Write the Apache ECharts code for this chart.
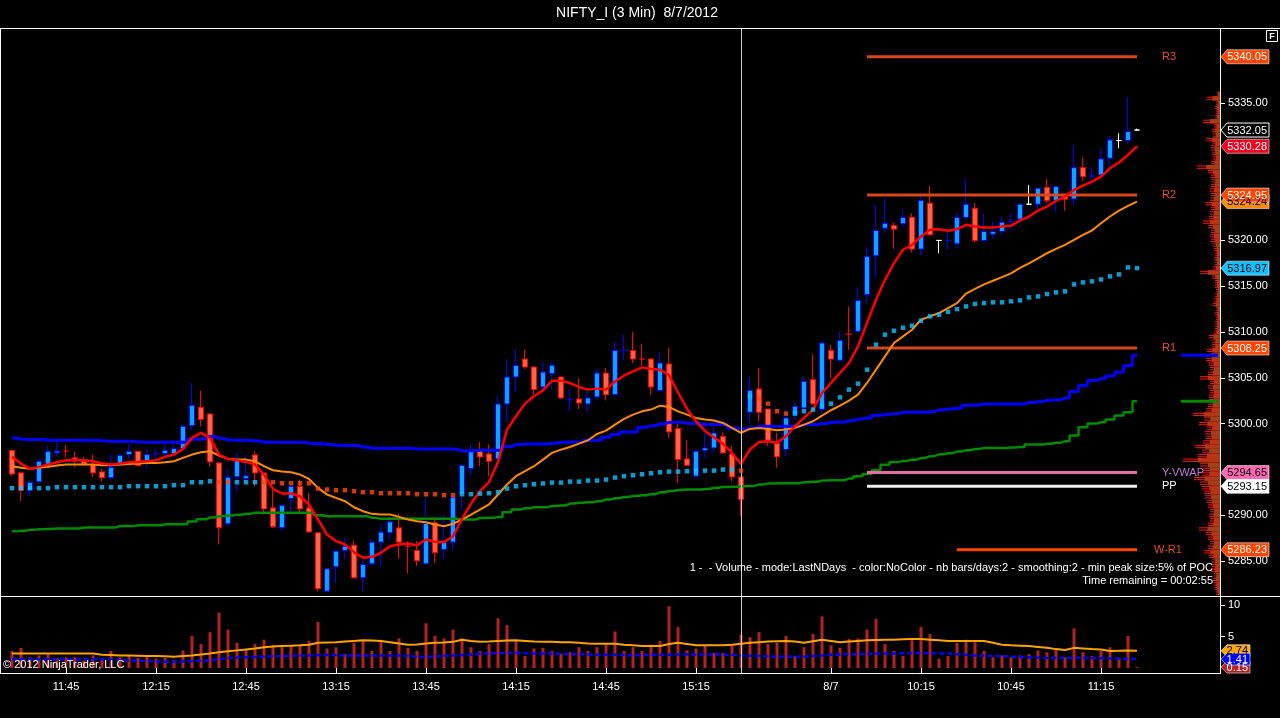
<!DOCTYPE html>
<html><head><meta charset="utf-8">
<script src="https://cdn.jsdelivr.net/npm/echarts/dist/echarts.min.js"></script>
<style>html,body{margin:0;padding:0;background:#000;overflow:hidden}#c{width:1280px;height:718px}</style>
</head><body><div id="c"></div>
<script>
// ---------------- DATA ----------------
const day1Times = ['11:27','11:30','11:33','11:36','11:39','11:42','11:45','11:48','11:51','11:54','11:57','12:00','12:03','12:06','12:09','12:12','12:15','12:18','12:21','12:24','12:27','12:30','12:33','12:36','12:39','12:42','12:45','12:48','12:51','12:54','12:57','13:00','13:03','13:06','13:09','13:12','13:15','13:18','13:21','13:24','13:27','13:30','13:33','13:36','13:39','13:42','13:45','13:48','13:51','13:54','13:57','14:00','14:03','14:06','14:09','14:12','14:15','14:18','14:21','14:24','14:27','14:30','14:33','14:36','14:39','14:42','14:45','14:48','14:51','14:54','14:57','15:00','15:03','15:06','15:09','15:12','15:15','15:18','15:21','15:24','15:27','15:30'];
const day2Times = ['9:18','9:21','9:24','9:27','9:30','9:33','9:36','9:39','9:42','9:45','9:48','9:51','9:54','9:57','10:00','10:03','10:06','10:09','10:12','10:15','10:18','10:21','10:24','10:27','10:30','10:33','10:36','10:39','10:42','10:45','10:48','10:51','10:54','10:57','11:00','11:03','11:06','11:09','11:12','11:15','11:18','11:21','11:24','11:27'];
const axisTimeLabels = {'d1 11:45':'11:45','d1 12:15':'12:15','d1 12:45':'12:45','d1 13:15':'13:15','d1 13:45':'13:45','d1 14:15':'14:15','d1 14:45':'14:45','d1 15:15':'15:15','d2 9:45':'8/7','d2 10:15':'10:15','d2 10:45':'10:45','d2 11:15':'11:15'};

const opens = [5297.06,5294.62,5292.73,5293.64,5295.24,5296.8,5297.0,5296.26,5295.9,5295.53,
5294.73,5294.08,5295.46,5296.62,5296.98,5295.71,5296.7,5296.73,5296.73,5297.27,
5299.78,5301.78,5301.06,5295.71,5289.06,5294.19,5294.0,5296.58,5294.62,5290.8,
5288.62,5291.82,5293.16,5290.8,5288.08,5281.71,5284.37,5286.15,5286.73,5283.17,
5284.7,5287.06,5288.08,5288.62,5286.62,5286.15,5284.7,5289.17,5286.26,5287.06,
5292.33,5295.09,5297.09,5296.69,5296.15,5302.14,5305.09,5307.05,5306.18,5304.0,
5305.45,5305.09,5302.6,5302.69,5302.14,5302.91,5305.52,5303.16,5308.0,5307.99,
5307.05,5307.05,5303.6,5306.51,5299.45,5296.15,5294.26,5297.05,5297.34,5298.62,
5296.69,5294.18,5301.24,5303.78,5301.6,5297.82,5297.17,5300.98,5301.71,5304.8,
5301.53,5308.0,5306.91,5309.78,5310.07,5314.07,5318.32,5321.34,5321.63,5321.81,
5322.54,5319.05,5324.07,5320.0,5320.0,5319.63,5322.5,5323.52,5319.99,5320.68,
5320.97,5322.06,5322.32,5323.95,5323.95,5325.8,5324.35,5325.04,5324.53,5327.95,
5327.04,5327.15,5328.97,5330.9,5330.9,5332.05];
const highs = [5297.2,5294.7,5293.9,5296.1,5297.6,5298.07,5297.7,5297.0,5296.4,5296.62,
5295.1,5296.62,5296.6,5297.8,5297.0,5297.2,5297.2,5297.8,5298.15,5299.9,
5304.44,5303.6,5301.1,5295.75,5294.99,5296.8,5296.6,5296.98,5294.7,5292.8,
5291.1,5293.35,5293.89,5292.44,5288.1,5284.2,5286.1,5287.53,5287.24,5285.17,
5287.35,5288.98,5289.89,5290.19,5287.17,5287.17,5291.82,5289.82,5290.04,5292.0,
5295.5,5297.82,5298.0,5297.71,5303.05,5307.05,5308.07,5308.07,5306.2,5306.69,
5306.69,5305.1,5303.78,5304.98,5303.78,5305.96,5306.07,5308.98,5309.7,5309.99,
5308.72,5307.1,5307.81,5308.25,5300.07,5298.18,5297.16,5299.71,5299.78,5299.05,
5297.6,5294.2,5305.09,5306.07,5301.6,5298.98,5301.53,5302.25,5305.16,5307.53,
5308.98,5308.62,5310.07,5312.8,5314.9,5319.27,5323.88,5324.61,5321.96,5323.41,
5322.97,5324.97,5325.96,5320.0,5320.97,5323.05,5326.68,5324.07,5322.9,5322.06,
5322.61,5322.9,5324.06,5326.06,5325.7,5326.71,5325.9,5325.05,5330.42,5329.08,
5327.99,5330.06,5331.4,5331.7,5335.62,5332.2];
const lows = [5294.25,5291.53,5292.08,5293.5,5295.2,5296.44,5296.3,5295.2,5295.35,5294.19,
5293.7,5293.9,5295.35,5296.1,5295.3,5295.06,5295.9,5296.26,5296.6,5297.2,
5299.27,5299.71,5295.35,5286.81,5288.81,5292.62,5293.6,5293.16,5290.07,5288.6,
5288.37,5290.07,5290.26,5288.08,5281.7,5281.6,5282.62,5285.24,5283.06,5281.71,
5284.44,5284.44,5287.28,5285.24,5283.64,5284.44,5284.7,5284.8,5285.24,5286.15,
5290.62,5294.33,5295.35,5294.26,5295.16,5300.14,5303.53,5305.96,5303.16,5303.42,
5303.78,5302.7,5301.34,5301.6,5301.16,5302.6,5302.54,5303.05,5306.9,5306.62,
5306.25,5303.16,5303.53,5298.44,5293.53,5295.35,5294.2,5296.25,5296.8,5296.73,
5293.71,5289.89,5300.07,5300.26,5297.53,5295.17,5296.44,5300.44,5301.35,5302.07,
5300.62,5304.98,5306.9,5308.07,5310.0,5313.16,5315.99,5320.8,5319.08,5321.52,
5318.69,5318.43,5320.54,5318.6,5318.98,5319.12,5322.25,5319.78,5319.99,5320.17,
5320.53,5321.08,5321.88,5323.95,5322.97,5324.06,5323.15,5323.26,5323.88,5326.53,
5326.06,5327.04,5328.13,5330.06,5330.6,5332.0];
const closes = [5294.5,5292.73,5293.6,5295.89,5296.98,5297.0,5297.0,5295.97,5295.6,5294.62,
5294.08,5295.24,5296.55,5296.98,5295.42,5296.62,5296.7,5297.09,5297.27,5299.71,
5302.0,5300.44,5295.82,5288.62,5294.15,5296.0,5294.3,5294.62,5290.69,5288.73,
5291.09,5293.16,5290.69,5288.18,5281.97,5284.15,5286.08,5286.62,5283.17,5284.62,
5287.06,5288.15,5289.28,5287.06,5286.62,5285.02,5289.09,5285.9,5287.06,5291.97,
5295.45,5297.09,5296.36,5295.89,5302.14,5305.09,5306.36,5306.18,5303.71,5305.63,
5306.36,5302.8,5302.6,5302.25,5302.8,5305.52,5303.16,5307.99,5308.0,5307.05,
5307.05,5304.0,5306.62,5299.09,5296.07,5295.45,5296.98,5297.34,5298.98,5296.8,
5294.18,5291.71,5303.64,5301.24,5298.18,5296.37,5300.62,5301.89,5304.62,5302.15,
5308.8,5307.05,5309.09,5309.78,5313.45,5318.25,5321.08,5321.88,5321.23,5322.5,
5319.05,5324.36,5320.61,5320.0,5320.0,5322.5,5323.95,5319.99,5320.97,5320.97,
5321.99,5322.06,5323.95,5323.95,5325.7,5324.35,5325.88,5324.5,5327.95,5326.97,
5327.04,5328.9,5330.97,5330.9,5331.88,5332.05];
const dojiUpBars = [16,62,68,104,111,120];
const dojiDownBars = [6,44,70,93];
const whiteBars = [103,113,123,125];

const emaFast = [5296.37,5295.64,5295.06,5295.28,5295.53,5295.78,5296.0,5296.0,5296.0,5295.89,
5295.64,5295.53,5295.64,5295.78,5295.82,5295.89,5296.0,5296.37,5296.62,5297.24,
5298.44,5298.98,5298.44,5296.62,5296.15,5296.0,5295.82,5295.53,5294.44,5292.87,
5292.37,5292.37,5292.07,5291.17,5289.53,5287.89,5287.17,5286.8,5285.97,5285.35,
5285.46,5285.9,5286.62,5286.8,5286.91,5286.69,5287.35,5287.09,5287.06,5287.71,
5289.6,5291.27,5292.62,5293.6,5295.8,5299.34,5300.8,5302.18,5302.98,5303.63,
5304.69,5304.69,5304.43,5304.0,5303.71,5303.82,5303.71,5304.6,5305.23,5305.71,
5306.14,5305.96,5305.89,5305.3,5303.4,5301.6,5300.25,5299.2,5298.5,5297.8,
5296.8,5295.6,5297.17,5298.0,5298.07,5297.9,5298.62,5299.71,5300.62,5301.53,
5303.34,5304.44,5305.53,5306.62,5308.43,5310.98,5313.52,5315.7,5317.52,5318.98,
5319.52,5320.43,5321.16,5321.23,5321.05,5321.23,5321.7,5321.52,5321.41,5321.41,
5321.52,5321.59,5322.17,5322.61,5323.26,5323.7,5324.32,5324.79,5325.51,5325.99,
5326.42,5326.97,5327.88,5328.5,5329.33,5330.28];
const emaSlow = [5295.35,5295.17,5295.06,5295.17,5295.28,5295.42,5295.53,5295.53,5295.53,5295.53,
5295.46,5295.46,5295.53,5295.6,5295.64,5295.71,5295.71,5295.78,5295.89,5296.26,
5296.62,5296.87,5296.98,5296.51,5296.15,5296.08,5296.07,5295.89,5295.35,5294.91,
5294.76,5294.69,5294.44,5293.96,5292.98,5292.26,5291.89,5291.53,5290.87,5290.44,
5290.15,5290.07,5290.07,5289.82,5289.53,5289.35,5289.24,5288.98,5288.8,5289.06,
5289.53,5290.07,5290.62,5291.17,5292.26,5293.35,5294.26,5294.8,5295.35,5296.07,
5296.8,5297.16,5297.45,5297.82,5298.18,5298.87,5299.24,5299.89,5300.51,5300.98,
5301.34,5301.53,5301.96,5301.82,5301.34,5300.98,5300.62,5300.44,5300.33,5300.07,
5299.53,5299.0,5299.42,5299.53,5299.42,5299.27,5299.35,5299.53,5299.89,5300.26,
5300.87,5301.46,5301.96,5302.51,5303.16,5304.44,5305.89,5307.34,5308.8,5309.52,
5310.25,5311.34,5311.71,5312.07,5312.61,5313.16,5314.2,5314.7,5315.2,5315.6,
5316.0,5316.4,5317.0,5317.5,5318.05,5318.6,5319.08,5319.52,5320.06,5320.61,
5321.08,5321.88,5322.61,5323.26,5323.77,5324.24];
const bandBlue = [5298.44,5298.3,5298.26,5298.26,5298.18,5298.18,5298.18,5298.18,5298.18,5298.18,
5298.1,5298.07,5298.07,5298.07,5298.0,5297.97,5297.97,5297.97,5297.97,5297.97,
5298.3,5298.33,5298.6,5298.4,5298.2,5298.18,5298.18,5298.1,5297.96,5297.96,
5297.96,5297.96,5297.96,5297.85,5297.8,5297.71,5297.65,5297.6,5297.6,5297.45,
5297.31,5297.31,5297.31,5297.31,5297.31,5297.24,5297.24,5297.24,5297.24,5297.2,
5297.0,5297.05,5297.09,5297.09,5297.09,5297.5,5297.71,5297.78,5297.78,5297.78,
5297.85,5297.96,5297.96,5297.96,5298.18,5298.18,5298.51,5298.8,5299.09,5299.09,
5299.6,5299.78,5299.96,5300.14,5300.14,5300.05,5300.0,5299.89,5299.89,5299.89,
5299.5,5299.4,5299.53,5299.7,5299.71,5299.71,5299.71,5299.71,5299.89,5299.89,
5300.0,5300.15,5300.15,5300.3,5300.5,5300.62,5300.9,5301.0,5301.09,5301.24,
5301.24,5301.24,5301.3,5301.5,5301.6,5301.68,5302.0,5302.04,5302.15,5302.15,
5302.15,5302.15,5302.15,5302.3,5302.4,5302.55,5302.6,5302.8,5303.5,5304.15,
5304.7,5304.9,5305.2,5305.6,5306.33,5307.46];
const bandGreen = [5288.26,5288.3,5288.4,5288.48,5288.5,5288.55,5288.55,5288.55,5288.66,5288.66,
5288.66,5288.66,5288.81,5288.81,5288.91,5288.91,5288.91,5289.02,5289.02,5289.02,
5289.3,5289.55,5289.75,5289.9,5289.97,5290.05,5290.15,5290.26,5290.26,5290.26,
5290.26,5290.26,5290.26,5290.26,5290.0,5289.89,5289.89,5289.89,5289.89,5289.89,
5289.71,5289.6,5289.6,5289.6,5289.6,5289.6,5289.6,5289.6,5289.6,5289.6,
5289.53,5289.53,5289.7,5289.71,5289.8,5290.33,5290.62,5290.75,5290.87,5290.87,
5291.0,5291.06,5291.27,5291.35,5291.42,5291.53,5291.71,5291.85,5292.0,5292.1,
5292.18,5292.3,5292.5,5292.65,5292.75,5292.8,5292.8,5292.87,5293.0,5293.09,
5293.1,5293.16,5293.2,5293.35,5293.45,5293.5,5293.5,5293.5,5293.61,5293.65,
5293.78,5293.83,5293.83,5294.0,5294.26,5294.5,5294.9,5295.5,5295.8,5295.93,
5296.05,5296.25,5296.45,5296.65,5296.77,5296.95,5297.1,5297.24,5297.35,5297.35,
5297.35,5297.4,5297.46,5297.71,5297.71,5297.8,5297.9,5298.08,5298.7,5299.6,
5300.0,5300.15,5300.44,5300.88,5301.24,5302.44];
const trailDots = [5292.95,5292.95,5292.95,5292.95,5292.95,5293.06,5293.06,5293.06,5293.06,5293.06,
5293.06,5293.06,5293.06,5293.17,5293.17,5293.17,5293.17,5293.17,5293.28,5293.28,
5293.6,5293.6,5293.71,5293.6,5293.6,5293.6,5293.6,5293.6,5293.6,5293.6,
5293.49,5293.49,5293.49,5293.49,5292.91,5292.8,5292.73,5292.73,5292.62,5292.51,
5292.51,5292.4,5292.4,5292.4,5292.4,5292.29,5292.29,5292.29,5292.18,5292.18,
5292.29,5292.29,5292.35,5292.4,5292.51,5292.91,5293.16,5293.27,5293.38,5293.46,
5293.56,5293.56,5293.67,5293.67,5293.78,5293.78,5293.89,5294.11,5294.26,5294.36,
5294.47,5294.58,5294.69,5294.76,5294.76,5294.8,5294.87,5294.87,5294.87,5294.98,
5294.98,5294.87,5302.98,5302.7,5302.18,5301.35,5301.09,5301.09,5301.35,5301.53,
5301.96,5302.18,5302.87,5303.71,5304.36,5305.89,5308.62,5309.71,5310.14,5310.47,
5310.69,5311.23,5311.71,5311.89,5312.2,5312.5,5312.8,5313.06,5313.16,5313.24,
5313.24,5313.35,5313.45,5313.78,5313.89,5314.15,5314.33,5314.44,5315.2,5315.42,
5315.53,5315.74,5316.07,5316.29,5317.05,5316.97];
const trailDownRanges = [[23,24],[28,49],[81,81],[83,86]];

const levelNames = ['R3','R2','R1','Y-VWAP','PP','W-R1'];
const levelValues = [5340.05,5324.95,5308.25,5294.65,5293.15,5286.23];
const levelStartBars = [95,95,95,95,95,105];
const levelEndBar = 125;

const vol = [2.7,3.2,1.7,2.0,2.2,1.6,1.7,1.7,1.2,2.0,
1.5,2.7,1.7,2.0,1.6,2.0,1.5,1.6,1.3,2.8,
5.1,3.8,5.7,8.8,6.1,4.0,2.9,3.8,4.5,3.7,
3.5,3.5,3.5,4.3,7.3,3.1,3.3,2.2,4.0,4.5,
2.7,4.5,2.7,4.7,3.2,2.7,7.1,5.1,4.7,6.1,
4.7,3.3,2.7,3.8,7.9,6.8,4.4,1.9,3.1,3.2,
2.7,2.3,2.5,3.3,2.7,3.3,3.7,5.8,2.7,3.3,
2.7,3.7,4.3,9.8,6.5,2.8,3.1,3.6,2.4,2.4,
3.6,5.3,4.9,5.7,3.8,4.0,5.1,1.9,3.3,5.4,
8.2,3.6,3.2,4.6,4.7,6.1,7.8,3.8,2.7,1.9,
4.4,6.5,5.4,1.5,1.9,4.0,4.5,4.1,2.7,1.7,
2.0,1.7,2.0,2.2,2.8,2.5,2.9,1.7,6.3,2.5,
1.9,2.7,3.3,1.6,5.1,0.15];
const volAvg = [2.3,2.3,2.3,2.3,2.3,2.3,2.3,2.3,2.3,2.3,
2.1,2.05,2.0,2.0,1.95,1.9,1.9,1.85,1.8,1.9,
2.0,2.15,2.3,2.5,2.65,2.8,2.95,3.1,3.3,3.4,
3.5,3.55,3.6,3.7,4.0,4.05,4.1,4.2,4.3,4.4,
4.35,4.3,4.1,3.9,3.7,3.75,3.9,4.0,4.05,4.15,
4.5,4.3,4.15,4.2,4.3,4.35,4.4,4.3,4.2,4.15,
4.15,4.1,4.1,4.0,3.9,3.85,3.85,3.85,3.7,3.6,
3.5,3.5,3.5,3.8,4.0,3.8,3.6,3.6,3.6,3.6,
3.7,3.85,4.0,4.1,4.2,4.25,4.3,4.2,4.0,4.25,
4.5,4.3,4.1,4.2,4.3,4.4,4.45,4.5,4.5,4.55,
4.6,4.6,4.5,4.4,4.3,4.3,4.3,4.3,4.3,4.0,
3.7,3.6,3.55,3.5,3.35,3.2,3.0,2.85,3.2,3.1,
3.0,2.95,2.7,2.75,2.8,2.74];
const volBase = [1.4,1.4,1.4,1.4,1.4,1.4,1.4,1.4,1.4,1.4,
1.4,1.35,1.25,1.2,1.15,1.1,1.05,1.0,1.0,1.05,
1.1,1.15,1.2,1.4,1.6,1.65,1.7,1.75,1.8,1.85,
1.9,1.95,2.0,2.0,2.05,2.05,2.05,2.0,2.0,2.0,
2.0,2.0,2.0,2.0,1.9,1.8,1.75,1.85,1.95,2.0,
2.05,2.15,2.25,2.3,2.35,2.4,2.4,2.35,2.3,2.3,
2.3,2.25,2.2,2.2,2.15,2.1,2.1,2.1,2.05,2.0,
2.05,2.1,2.1,2.1,2.15,2.15,2.15,2.15,2.15,2.15,
2.1,2.0,1.95,1.9,1.85,1.8,1.8,1.8,1.8,1.9,
2.0,2.1,2.15,2.2,2.2,2.25,2.3,2.3,2.3,2.35,
2.4,2.4,2.35,2.3,2.3,2.2,2.1,2.0,1.95,1.9,
1.9,1.8,1.75,1.7,1.65,1.6,1.6,1.6,1.65,1.6,
1.6,1.55,1.5,1.5,1.45,1.41];

// volume profile: [price, relative size]
const volumeProfile = [[5281.5,4],[5282.0,5],[5282.5,6],[5283.0,7],[5283.5,6],[5284.0,9],[5284.5,8],[5285.0,8],[5285.5,11],[5286.0,16],
[5286.5,12],[5287.0,10],[5287.5,12],[5288.0,14],[5288.5,21],[5289.0,12],[5289.5,10],[5290.0,11],[5290.5,10],[5291.0,12],
[5291.5,13],[5292.0,15],[5292.5,16],[5293.0,18],[5293.5,20],[5294.0,26],[5294.5,18],[5295.0,17],[5295.5,20],[5296.0,37],
[5296.5,22],[5297.0,18],[5297.5,25],[5298.0,17],[5298.5,14],[5299.0,15],[5299.5,13],[5300.0,21],[5300.5,16],[5301.0,27],
[5301.5,14],[5302.0,12],[5302.5,11],[5303.0,11],[5303.5,10],[5304.0,12],[5304.5,10],[5305.0,20],[5305.5,12],[5306.0,10],
[5306.5,11],[5307.0,14],[5307.5,9],[5308.0,13],[5308.5,8],[5309.0,8],[5309.5,11],[5310.0,6],[5310.5,5],[5311.0,5],
[5311.5,4],[5312.0,5],[5312.5,4],[5313.0,7],[5313.5,6],[5314.0,5],[5314.5,4],[5315.0,5],[5315.5,5],[5316.0,8],
[5316.5,20],[5317.0,7],[5317.5,5],[5318.0,6],[5318.5,5],[5319.0,6],[5319.5,7],[5320.0,9],[5320.5,10],[5321.0,9],
[5321.5,12],[5322.0,17],[5322.5,11],[5323.0,10],[5323.5,9],[5324.0,14],[5324.5,10],[5325.0,9],[5325.5,10],[5326.0,9],
[5326.5,8],[5327.0,9],[5327.5,12],[5328.0,23],[5328.5,9],[5329.0,7],[5329.5,8],[5330.0,9],[5330.5,8],[5331.0,13],
[5331.5,7],[5332.0,8],[5332.5,6],[5333.0,17],[5333.5,5],[5334.0,4],[5334.5,5],[5335.0,4],[5335.5,13],[5336.0,3]];

const priceTicks = [5285,5290,5300,5305,5310,5315,5320,5335];
const volTicks = [5,10];
const sessionBreakBar = 81;

const titleText = 'NIFTY_I (3 Min)  8/7/2012';
const infoLine1 = '1 -  - Volume - mode:LastNDays  - color:NoColor - nb bars/days:2 - smoothing:2 - min peak size:5% of POC';
const infoLine2 = 'Time remaining = 00:02:55';
const copyrightText = '\u00A9 2012 NinjaTrader, LLC';

// ---------------- BUILD ----------------
const FONT = 'Liberation Sans, Arial, sans-serif';
const times = day1Times.map(t => 'd1 ' + t).concat(day2Times.map(t => 'd2 ' + t));
const N_SLOTS = 135;
const slots = [];
for (let i = 0; i < N_SLOTS; i++) slots.push(i < times.length ? times[i] : 'pad' + i);

const UP_FILL = '#0AA5FF', UP_LINE = '#0000FF', DN_FILL = '#FF6347', DN_LINE = '#FF0000';
const candleData = times.map((t, i) => {
  const it = { value: [opens[i], closes[i], lows[i], highs[i]] };
  let c = null;
  if (whiteBars.includes(i)) c = '#FFFFFF';
  else if (dojiUpBars.includes(i)) c = UP_LINE;
  else if (dojiDownBars.includes(i)) c = DN_LINE;
  if (c) it.itemStyle = { color: c, color0: c, borderColor: c, borderColor0: c, borderColorDoji: c };
  return it;
});
const isDown = i => trailDownRanges.some(r => i >= r[0] && i <= r[1]);
const dotsUp = [], dotsDown = [];
trailDots.forEach((v, i) => { (isDown(i) ? dotsDown : dotsUp).push([i, v]); });

const levelColors = ['#D8461C', '#D8461C', '#D8461C', '#E070A8', '#EDEDED', '#FF4500'];
const levelLabelColors = ['#E8501E', '#E8501E', '#E8501E', '#C27AD8', '#FFFFFF', '#E8501E'];
const levelLabelDist = [25, 25, 25, 25, 25, 17];
const levelSeries = levelNames.map((n, k) => ({
  type: 'line', name: n, xAxisIndex: 0, yAxisIndex: 0, symbol: 'none', z: 3, silent: true,
  data: [[levelStartBars[k], levelValues[k]], [levelEndBar, levelValues[k]]],
  lineStyle: { color: levelColors[k], width: 3 },
  endLabel: { show: true, formatter: n, color: levelLabelColors[k], fontSize: 11, fontFamily: FONT, distance: levelLabelDist[k] }
}));

const last = arr => arr[arr.length - 1];
const breakLine = { symbol: ['none', 'none'], silent: true, label: { show: false }, lineStyle: { color: '#CFCFCF', width: 1, type: 'solid' }, data: [{ xAxis: sessionBreakBar }] };
const labelShown = (idx) => !!axisTimeLabels[slots[idx]];

const option = {
  backgroundColor: '#000',
  animation: false,
  grid: [
    { left: 7.5, right: 57.5, top: 28, height: 568, outerBoundsMode: 'none', containLabel: false },
    { left: 7.5, right: 57.5, top: 597, height: 76, outerBoundsMode: 'none', containLabel: false }
  ],
  xAxis: [
    { type: 'category', gridIndex: 0, data: slots, show: false },
    { type: 'value', gridIndex: 0, inverse: true, min: -2.5, max: 1212.5, show: false },
    { type: 'category', gridIndex: 1, data: slots,
      axisLine: { show: false },
      axisTick: { show: true, alignWithLabel: true, length: 5, interval: (i) => labelShown(i), lineStyle: { color: '#fff' } },
      axisLabel: { interval: (i) => labelShown(i), formatter: (v) => axisTimeLabels[v] || '', color: '#fff', fontSize: 11, fontFamily: FONT, margin: 8 },
      splitLine: { show: false } }
  ],
  yAxis: [
    { type: 'value', gridIndex: 0, position: 'right', offset: -2.5, min: 5281.18, max: 5343.19,
      axisLine: { show: false }, splitLine: { show: false },
      axisTick: { show: true, length: 5, customValues: priceTicks, lineStyle: { color: '#fff', width: 1 } },
      axisLabel: { customValues: priceTicks, color: '#fff', fontSize: 11, fontFamily: FONT, margin: 8,
        formatter: (v) => priceTicks.some(t => Math.abs(t - v) < 1e-6) ? Number(v).toFixed(2) : '' } },
    { type: 'value', gridIndex: 1, position: 'right', offset: -2.5, min: -0.79, max: 11.27,
      axisLine: { show: false }, splitLine: { show: false },
      axisTick: { show: true, length: 5, customValues: volTicks, lineStyle: { color: '#fff', width: 1 } },
      axisLabel: { customValues: volTicks, color: '#fff', fontSize: 11, fontFamily: FONT, margin: 8,
        formatter: (v) => volTicks.some(t => Math.abs(t - v) < 1e-6) ? String(v) : '' } }
  ],
  series: [
    { type: 'custom', name: 'profile', xAxisIndex: 1, yAxisIndex: 0, z: 1, silent: true,
      data: volumeProfile, encode: { x: 1, y: 0 },
      renderItem: function (params, api) {
        const p = api.value(0), len = api.value(1);
        const a = api.coord([0, p + 0.25]);
        const b = api.coord([len, p - 0.25]);
        const c = api.coord([len * 0.6, p]);
        const y1 = api.coord([0, p + 0.125])[1], y2 = api.coord([0, p - 0.125])[1];
        return { type: 'group', children: [
          { type: 'rect', shape: { x: c[0], y: a[1], width: a[0] - c[0], height: b[1] - a[1] }, style: { fill: '#735719' } },
          { type: 'line', shape: { x1: a[0], y1: y1, x2: b[0], y2: y1 }, style: { stroke: '#FF1414', lineWidth: 1 } },
          { type: 'line', shape: { x1: a[0], y1: y2, x2: b[0], y2: y2 }, style: { stroke: '#FF1414', lineWidth: 1 } }
        ] };
      } },
    { type: 'candlestick', name: 'NIFTY_I', xAxisIndex: 0, yAxisIndex: 0, z: 2, barWidth: 6,
      data: candleData,
      itemStyle: { color: UP_FILL, color0: DN_FILL, borderColor: UP_LINE, borderColor0: DN_LINE, borderWidth: 1 },
      markLine: breakLine },
    { type: 'line', name: 'bandBlue', xAxisIndex: 0, yAxisIndex: 0, data: bandBlue, step: 'middle', symbol: 'none', z: 3, lineStyle: { color: '#0000FF', width: 3 } },
    { type: 'line', name: 'bandGreen', xAxisIndex: 0, yAxisIndex: 0, data: bandGreen, step: 'middle', symbol: 'none', z: 3, lineStyle: { color: '#008A00', width: 2.5 } },
    { type: 'line', name: 'emaSlow', xAxisIndex: 0, yAxisIndex: 0, data: emaSlow, symbol: 'none', z: 4, lineStyle: { color: '#FF8C00', width: 2 } },
    { type: 'line', name: 'emaFast', xAxisIndex: 0, yAxisIndex: 0, data: emaFast, symbol: 'none', z: 4, lineStyle: { color: '#FF0000', width: 2.5 } },
    { type: 'scatter', name: 'trailUp', xAxisIndex: 0, yAxisIndex: 0, data: dotsUp, symbol: 'rect', symbolSize: 4.5, z: 5, itemStyle: { color: '#12C0FF' } },
    { type: 'scatter', name: 'trailDown', xAxisIndex: 0, yAxisIndex: 0, data: dotsDown, symbol: 'rect', symbolSize: 4.5, z: 5, itemStyle: { color: '#FF4A12' } },
    ...levelSeries,
    { type: 'line', name: 'blueMark', xAxisIndex: 1, yAxisIndex: 0, symbol: 'none', z: 3, data: [[2, last(bandBlue)], [39, last(bandBlue)]], lineStyle: { color: '#0000FF', width: 3 } },
    { type: 'line', name: 'greenMark', xAxisIndex: 1, yAxisIndex: 0, symbol: 'none', z: 3, data: [[2, last(bandGreen)], [39, last(bandGreen)]], lineStyle: { color: '#008A00', width: 3 } },
    { type: 'bar', name: 'vol', xAxisIndex: 2, yAxisIndex: 1, data: vol, barWidth: 3, itemStyle: { color: '#B22222' }, z: 2, markLine: breakLine },
    { type: 'line', name: 'volAvg', xAxisIndex: 2, yAxisIndex: 1, data: volAvg, symbol: 'none', z: 3, lineStyle: { color: '#FFA500', width: 2 } },
    { type: 'line', name: 'volBase', xAxisIndex: 2, yAxisIndex: 1, data: volBase, symbol: 'none', z: 3, lineStyle: { color: '#0000FF', width: 2.5, type: [5, 3] } }
  ]
};

const chart = echarts.init(document.getElementById('c'));
chart.setOption(option);

// ---------------- OVERLAY GRAPHICS ----------------
const g = [];
const line = (x1, y1, x2, y2, c) => g.push({ type: 'line', silent: true, z: 50, shape: { x1, y1, x2, y2 }, style: { stroke: c || '#fff', lineWidth: 1 } });
const text = (x, y, t, opts) => g.push({ type: 'text', silent: true, z: 120, x: x, y: y,
  style: Object.assign({ text: t, fill: '#fff', font: '11px ' + FONT, align: 'left', textAlign: 'left', verticalAlign: 'middle', textVerticalAlign: 'middle' }, opts || {}) });

line(0, 28.5, 1280, 28.5);
line(0, 596.5, 1280, 596.5);
line(0, 673.5, 1220.5, 673.5);
line(0.5, 28, 0.5, 674);
line(1220.5, 28, 1220.5, 674);

text(637, 13, titleText, { font: '14px ' + FONT, align: 'center', textAlign: 'center' });
text(1213, 568, infoLine1, { align: 'right', textAlign: 'right' });
text(1213, 581, infoLine2, { align: 'right', textAlign: 'right' });
text(3, 665, copyrightText, {});
g.push({ type: 'rect', silent: true, z: 110, shape: { x: 1266.5, y: 30.5, width: 11, height: 11 }, style: { fill: '#000', stroke: '#fff', lineWidth: 1 } });
text(1272, 36.5, 'F', { font: 'bold 9px ' + FONT, align: 'center', textAlign: 'center' });

function tag(v, yAxisIndex, bg, fg, stroke, right, half, digits) {
  const y = chart.convertToPixel({ yAxisIndex: yAxisIndex }, v);
  g.push({ type: 'polygon', silent: true, z: 115,
    shape: { points: [[1221, y], [1227, y - half], [right, y - half], [right, y + half], [1227, y + half]] },
    style: { fill: bg, stroke: stroke, lineWidth: 1 } });
  text(right - 2, y + 0.5, v.toFixed(digits), { fill: fg, align: 'right', textAlign: 'right' });
}
const LIGHT = 'rgba(255,255,255,0.55)';
tag(levelValues[0], 0, '#FF4500', '#fff', LIGHT, 1269, 7, 2);
tag(last(closes), 0, '#000', '#fff', '#fff', 1269, 7, 2);
tag(last(emaFast), 0, '#F00020', '#fff', LIGHT, 1269, 7, 2);
tag(last(emaSlow), 0, '#FF8C00', '#000', LIGHT, 1269, 7, 2);
tag(levelValues[1], 0, '#FF4500', '#fff', LIGHT, 1269, 7, 2);
tag(last(trailDots), 0, '#12C0FF', '#000', LIGHT, 1269, 7, 2);
tag(levelValues[2], 0, '#FF4500', '#fff', LIGHT, 1269, 7, 2);
tag(levelValues[3], 0, '#FF69B4', '#000', LIGHT, 1269, 7, 2);
tag(levelValues[4], 0, '#FFFFFF', '#000', LIGHT, 1269, 7, 2);
tag(levelValues[5], 0, '#FF4500', '#fff', LIGHT, 1269, 7, 2);
tag(last(vol), 1, '#B22222', '#fff', LIGHT, 1250, 6, 2);
tag(last(volAvg), 1, '#FFA500', '#000', LIGHT, 1250, 6, 2);
tag(last(volBase), 1, '#0000FF', '#fff', LIGHT, 1250, 6, 2);

chart.setOption({ graphic: g });
</script></body></html>
